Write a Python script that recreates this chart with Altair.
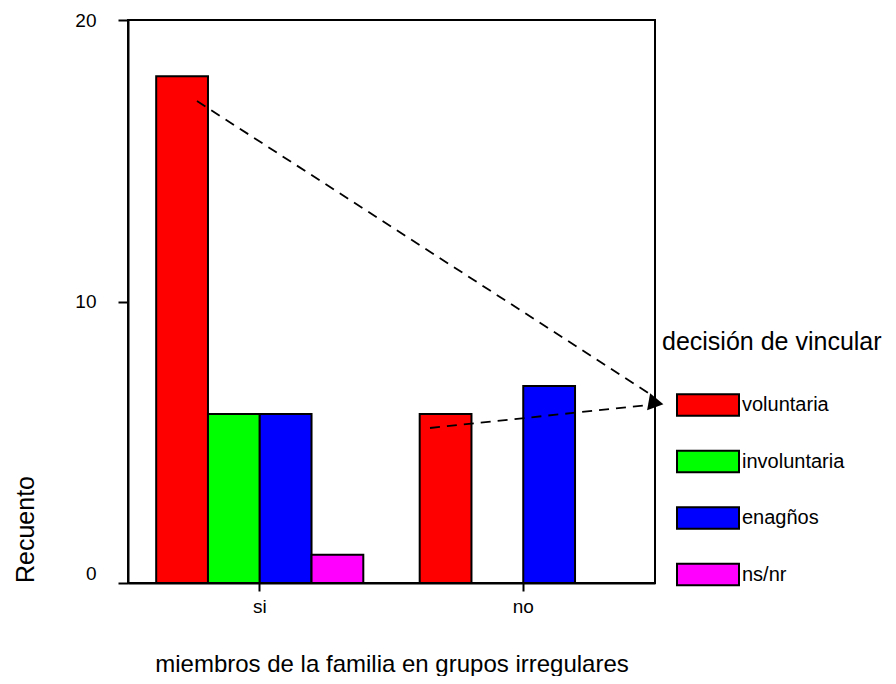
import altair as alt
import pandas as pd

groups = ["si", "no"]
categories = ["voluntaria", "involuntaria", "enagños", "ns/nr"]
counts_si = [18, 6, 6, 1]
counts_no = [6, 0, 7, 0]
colors = ["#FF0000", "#00FF00", "#0000FF", "#FF00FF"]

rows = []
for g, vals in zip(groups, [counts_si, counts_no]):
    for c, v in zip(categories, vals):
        if v > 0:
            rows.append({"grupo": g, "decision": c, "recuento": v})
df = pd.DataFrame(rows)

FONT = "Liberation Sans"
one = pd.DataFrame({"k": [0]})

bars = alt.Chart(df).mark_bar(stroke="black", strokeWidth=2, opacity=1).encode(
    x=alt.X(
        "grupo:N",
        sort=groups,
        scale=alt.Scale(domain=groups, paddingInner=0.214, paddingOuter=0.107),
        axis=alt.Axis(
            title="miembros de la familia en grupos irregulares",
            labelAngle=0,
            tickSize=8,
            labelPadding=6,
            labelFontSize=19,
            titleFontSize=24,
            titleFontWeight="normal",
            titleBaseline="alphabetic",
            titleY=88,
        ),
    ),
    xOffset=alt.XOffset(
        "decision:N",
        sort=categories,
        scale=alt.Scale(domain=categories, paddingInner=0, paddingOuter=0),
    ),
    y=alt.Y(
        "recuento:Q",
        scale=alt.Scale(domain=[0, 20], nice=False),
        axis=alt.Axis(
            values=[0, 10, 20],
            title="Recuento",
            grid=False,
            tickSize=10,
            labelPadding=22,
            labelFontSize=19,
            labelOffset=alt.ExprRef("datum.value == 0 ? -10 : 0"),
            titleFontSize=25,
            titleFontWeight="normal",
            titleAngle=270,
            titleAlign="center",
            titleBaseline="alphabetic",
            titleX=-95,
            titleY=509,
        ),
    ),
    fill=alt.Fill(
        "decision:N",
        sort=categories,
        scale=alt.Scale(domain=categories, range=colors),
        legend=alt.Legend(
            title="decisión de vincular",
            orient="none",
            legendX=534,
            legendY=310,
            padding=0,
            titleFontSize=25,
            titleFontWeight="normal",
            titleLimit=400,
            titlePadding=18,
            labelFontSize=20,
            labelLimit=300,
            labelOffset=2,
            symbolType="M-1,-0.35L1,-0.35L1,0.35L-1,0.35Z",
            symbolSize=3844,
            symbolOffset=14,
            symbolStrokeColor="black",
            symbolStrokeWidth=2,
            symbolOpacity=1,
            rowPadding=9.5,
        ),
    ),
)

arrow1 = alt.Chart(one).mark_rule(
    color="black", strokeWidth=1.8, strokeDash=[10, 7]
).encode(x=alt.value(69), y=alt.value(81), x2=alt.value(522), y2=alt.value(374))

arrow2 = alt.Chart(one).mark_rule(
    color="black", strokeWidth=1.8, strokeDash=[10, 7]
).encode(x=alt.value(302), y=alt.value(408), x2=alt.value(520), y2=alt.value(385))

head = alt.Chart(one).mark_point(
    shape="triangle-right", filled=True, size=300, angle=10, color="black", opacity=1
).encode(x=alt.value(528), y=alt.value(383))

chart = (
    alt.layer(bars, arrow1, arrow2, head)
    .properties(
        width=527,
        height=563,
        autosize=alt.AutoSizeParams(type="none"),
        padding={"left": 120, "top": 12, "right": 233, "bottom": 93},
    )
    .configure(font=FONT)
    .configure_view(stroke="black", strokeWidth=2)
    .configure_axis(
        domainColor="black",
        domainWidth=2,
        tickColor="black",
        tickWidth=2,
        labelColor="black",
        titleColor="black",
        labelFont=FONT,
        titleFont=FONT,
    )
    .configure_legend(labelFont=FONT, titleFont=FONT, labelColor="black", titleColor="black")
)

chart.save("out.html", embed_options={"renderer": "svg", "actions": False})
